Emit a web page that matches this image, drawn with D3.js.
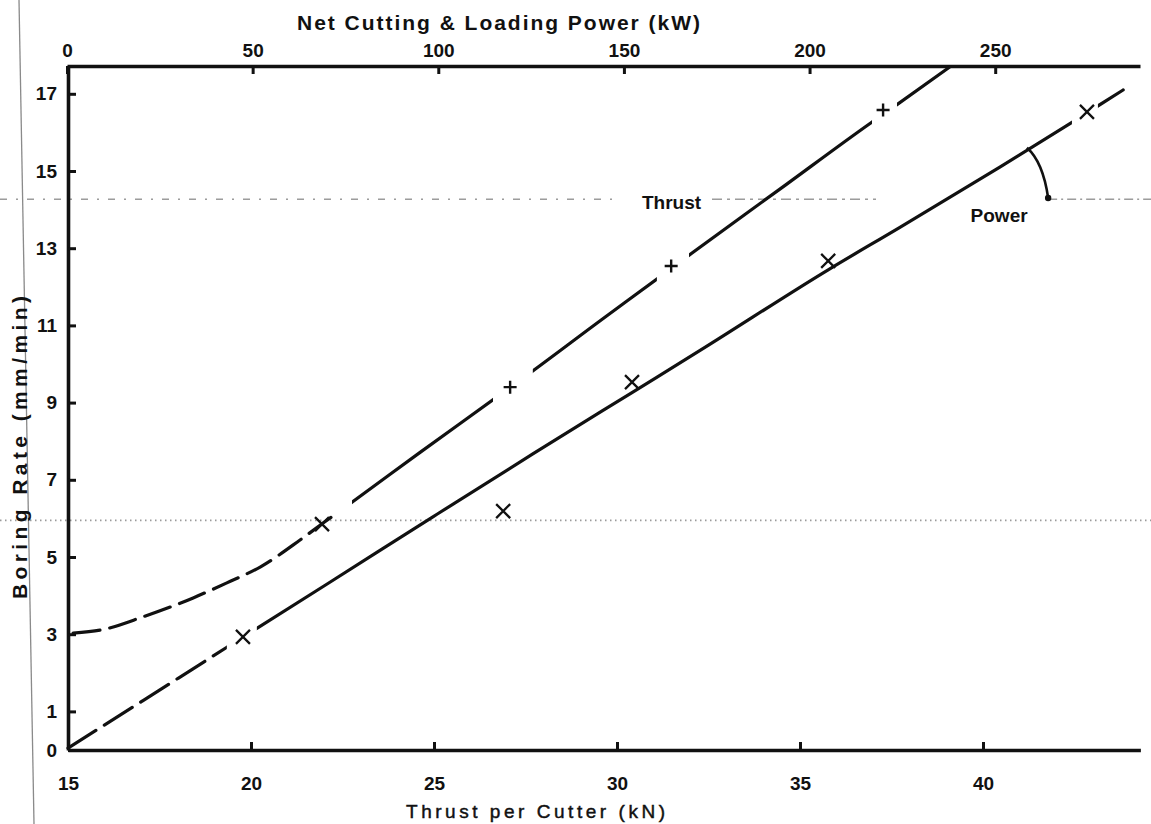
<!DOCTYPE html>
<html>
<head>
<meta charset="utf-8">
<script src="https://cdn.jsdelivr.net/npm/d3@7"></script>
<style>
  html, body { margin: 0; padding: 0; background: #fff; }
  svg { display: block; font-family: "Liberation Sans", Arial, Helvetica, sans-serif; }
</style>
</head>
<body>
<svg id="chart" width="1151" height="824"></svg>
<script>
// Tick values for the three axes
const thrustTicks = [15, 20, 25, 30, 35, 40];          // kN, bottom
const powerTicks  = [0, 50, 100, 150, 200, 250];        // kW, top
const rateTicks   = [0, 1, 3, 5, 7, 9, 11, 13, 15, 17]; // mm/min, left

// Thrust curve: boring rate (mm/min) against thrust per cutter (kN)
const thrustCurve = [
  [15.14, 3.03], [15.90, 3.11], [17.05, 3.45], [18.42, 3.94], [19.34, 4.33],
  [20.25, 4.74], [21.34, 5.44], [21.97, 5.88], [22.76, 6.42], [24.62, 7.71],
  [26.61, 9.07], [27.70, 9.82], [29.54, 11.12], [31.09, 12.20], [31.97, 12.82],
  [34.45, 14.53], [36.97, 16.27], [37.65, 16.72], [39.10, 17.70]
];

// Power curve: boring rate (mm/min) against the same thrust scale
const powerCurve = [
  [15.00, 0.05], [17.05, 1.28], [19.34, 2.66], [20.16, 3.15], [22.08, 4.30],
  [24.97, 6.04], [27.70, 7.67], [30.41, 9.26], [32.27, 10.35], [35.77, 12.44],
  [37.73, 13.54], [40.46, 15.10], [42.43, 16.26], [43.83, 17.10]
];

// Measured points
const plusMarkers  = [[27.08, 9.40], [31.48, 12.54], [37.27, 16.58]];
const crossMarkers = [[19.78, 2.93], [21.94, 5.85], [26.89, 6.19], [30.41, 9.53], [35.77, 12.67], [42.84, 16.53]];

// Where each curve stops being dashed, and where the pen was lifted
const thrustDashedTo = 22.3;
const powerDashedTo  = 19.34;
const thrustGaps = [[22.3, 22.76], [26.61, 27.70], [31.09, 31.97], [36.97, 37.65]];
const powerGaps  = [[19.34, 20.16], [42.43, 43.14]];

const W = 1151, H = 824;
const svg = d3.select("#chart");
const ink = "#111";

const x = d3.scaleLinear().domain([15, 44.3]).range([68, 68 + 29.3 * 36.6]);
const xTop = d3.scaleLinear().domain([0, 289]).range([67, 1140]);
const y = d3.scaleLinear().domain([0, 17.72]).range([750, 66]);

// Scan edge line on the left margin
svg.append("line")
  .attr("x1", 19).attr("y1", 0).attr("x2", 34).attr("y2", H)
  .attr("stroke", "#8a8a8a").attr("stroke-width", 1.3);

// Faint ruled lines across the sheet
const yLead = y(14.27);
[[0, 620, "7 9 2 9"], [712, 876, "10 5 3 5"], [x(41.78), W, "9 4 2 4"]].forEach(([a, b, da]) => {
  svg.append("line")
    .attr("x1", a).attr("x2", b).attr("y1", yLead).attr("y2", yLead)
    .attr("stroke", "#6a6a6a").attr("stroke-width", 1).attr("stroke-dasharray", da);
});
svg.append("line")
  .attr("x1", 0).attr("x2", W).attr("y1", y(5.95)).attr("y2", y(5.95))
  .attr("stroke", "#9a9a9a").attr("stroke-width", 1.6).attr("stroke-dasharray", "1.5 3.5");

// Axes
function styleAxis(g) {
  g.select(".domain").attr("stroke", ink).attr("stroke-width", 3.6);
  g.selectAll(".tick line").attr("stroke", ink).attr("stroke-width", 3);
  g.selectAll(".tick text")
    .attr("fill", ink).attr("font-size", 19).attr("font-weight", "bold")
    .attr("font-family", "\"Liberation Sans\", Arial, sans-serif");
}

svg.append("g")
  .attr("transform", `translate(0,${y(0)})`)
  .call(d3.axisBottom(x).tickValues(thrustTicks).tickSizeInner(-8).tickSizeOuter(0).tickPadding(27))
  .call(styleAxis);

svg.append("g")
  .attr("transform", `translate(0,${y(17.72)})`)
  .call(d3.axisTop(xTop).tickValues(powerTicks).tickSizeInner(-8).tickSizeOuter(0).tickPadding(9))
  .call(styleAxis);

svg.append("g")
  .attr("transform", `translate(${x(15)},0)`)
  .call(d3.axisLeft(y).tickValues(rateTicks).tickSizeInner(-8).tickSizeOuter(0).tickPadding(11))
  .call(styleAxis);

// Axis titles
svg.append("text")
  .attr("x", 297).attr("y", 30)
  .attr("textLength", 403).attr("lengthAdjust", "spacing")
  .attr("font-size", 21).attr("font-weight", "bold").attr("fill", ink)
  .text("Net Cutting & Loading Power (kW)");

svg.append("text")
  .attr("x", 406).attr("y", 818)
  .attr("textLength", 259).attr("lengthAdjust", "spacing")
  .attr("font-size", 19).attr("fill", ink)
  .attr("stroke", ink).attr("stroke-width", 0.45)
  .text("Thrust per Cutter (kN)");

svg.append("text")
  .attr("transform", "translate(27,599) rotate(-90)")
  .attr("textLength", 303).attr("lengthAdjust", "spacing")
  .attr("font-size", 21).attr("font-weight", "bold").attr("fill", ink)
  .text("Boring Rate (mm/min)");

// Curves: dashed start, then solid runs broken at the lifted-pen gaps
const line = d3.line().x(d => x(d[0])).y(d => y(d[1])).curve(d3.curveMonotoneX);
const defs = svg.append("defs");
let clipId = 0;

function drawCurve(data, dashedTo, gaps, dash) {
  const x0 = data[0][0] - 0.5, xEnd = data[data.length - 1][0] + 0.5;
  const pieces = [{ a: x0, b: dashedTo, dashed: true }];
  let start = dashedTo;
  gaps.forEach(([a, b]) => {
    if (a > start) pieces.push({ a: start, b: a, dashed: false });
    start = Math.max(start, b);
  });
  pieces.push({ a: start, b: xEnd, dashed: false });

  pieces.forEach(p => {
    const id = "clip" + (clipId++);
    defs.append("clipPath").attr("id", id)
      .append("rect")
      .attr("x", x(p.a)).attr("width", x(p.b) - x(p.a))
      .attr("y", 0).attr("height", H);
    svg.append("path")
      .datum(data)
      .attr("d", line)
      .attr("fill", "none")
      .attr("stroke", ink)
      .attr("stroke-width", 3.2)
      .attr("stroke-linecap", "round")
      .attr("stroke-dasharray", p.dashed ? dash : null)
      .attr("clip-path", `url(#${id})`);
  });
}

drawCurve(thrustCurve, thrustDashedTo, thrustGaps, "27 10");
drawCurve(powerCurve, powerDashedTo, powerGaps, "33 10");

// Markers
const arm = 6.5;
svg.append("g").selectAll("path")
  .data(plusMarkers).join("path")
  .attr("d", d => `M${x(d[0]) - arm},${y(d[1])}H${x(d[0]) + arm}M${x(d[0])},${y(d[1]) - arm}V${y(d[1]) + arm}`)
  .attr("stroke", ink).attr("stroke-width", 2.4).attr("fill", "none");

const c = 7;
svg.append("g").selectAll("path")
  .data(crossMarkers).join("path")
  .attr("d", d => `M${x(d[0]) - c},${y(d[1]) - c}L${x(d[0]) + c},${y(d[1]) + c}M${x(d[0]) - c},${y(d[1]) + c}L${x(d[0]) + c},${y(d[1]) - c}`)
  .attr("stroke", ink).attr("stroke-width", 2.3).attr("fill", "none");

// Series labels
svg.append("text")
  .attr("x", x(31.49)).attr("y", y(14.2)).attr("dy", "0.36em")
  .attr("text-anchor", "middle")
  .attr("font-size", 19).attr("font-weight", "bold").attr("fill", ink)
  .text("Thrust");

svg.append("text")
  .attr("x", x(40.44)).attr("y", y(13.86)).attr("dy", "0.36em")
  .attr("text-anchor", "middle")
  .attr("font-size", 19).attr("font-weight", "bold").attr("fill", ink)
  .text("Power");

// Leader from the power curve to its label line
const p0 = [x(41.2), y(15.6)], p1 = [x(41.78), y(14.3)];
svg.append("path")
  .attr("d", `M${p0[0]},${p0[1]} Q${p0[0] + 16},${p0[1] + 14} ${p1[0]},${p1[1]}`)
  .attr("fill", "none").attr("stroke", ink).attr("stroke-width", 2.6);
svg.append("circle")
  .attr("cx", p1[0]).attr("cy", p1[1]).attr("r", 3.2).attr("fill", ink);
</script>
</body>
</html>
